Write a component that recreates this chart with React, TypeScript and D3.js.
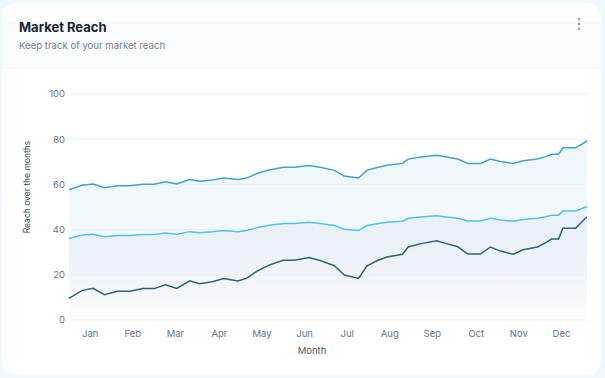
import React from "react";
import * as d3 from "d3";

const days = [0, 9, 17, 25, 34, 43, 52, 60, 68, 76, 85, 92, 101, 109, 119, 125, 133, 141, 151, 159, 169, 177, 187, 194, 204, 210, 217, 224, 235, 239, 248, 259, 266, 274, 281, 290, 297, 304, 313, 320, 330, 336, 340, 345, 348, 357, 365];
const upper = [57.6, 59.6, 60.2, 58.5, 59.4, 59.4, 60.1, 60.1, 61.2, 60.2, 62.2, 61.4, 61.9, 62.8, 62.2, 62.8, 64.9, 66.4, 67.6, 67.6, 68.4, 67.6, 66.2, 63.7, 62.8, 66.2, 67.5, 68.5, 69.3, 71.2, 72.1, 72.9, 72.1, 71.2, 69.3, 69.3, 71.2, 70.1, 69.3, 70.5, 71.2, 72.3, 73.3, 73.3, 76.2, 76.2, 79.2];
const middle = [36.1, 37.5, 37.9, 36.8, 37.4, 37.4, 37.8, 37.8, 38.5, 37.9, 39.1, 38.6, 39.0, 39.6, 39.1, 39.6, 40.9, 41.9, 42.7, 42.7, 43.2, 42.7, 41.8, 40.2, 39.6, 41.8, 42.6, 43.3, 43.7, 45.0, 45.6, 46.1, 45.6, 45.0, 43.8, 43.8, 45.0, 44.3, 43.7, 44.5, 45.0, 45.7, 46.4, 46.4, 48.2, 48.2, 50.2];
const lower = [9.6, 13.0, 14.0, 11.2, 12.7, 12.7, 13.9, 13.9, 15.6, 14.0, 17.3, 16.0, 16.9, 18.4, 17.3, 18.4, 21.8, 24.3, 26.4, 26.4, 27.6, 26.3, 24.0, 19.9, 18.4, 24.0, 26.2, 27.9, 29.1, 32.3, 33.8, 35.1, 33.8, 32.4, 29.2, 29.2, 32.3, 30.5, 29.1, 31.1, 32.3, 34.2, 35.8, 35.8, 40.6, 40.6, 45.7];
const months = ["Jan", "Feb", "Mar", "Apr", "May", "Jun", "Jul", "Aug", "Sep", "Oct", "Nov", "Dec"];
const monthDays = [15, 45, 75, 106, 136, 166, 196, 226, 256, 287, 317, 347];
const yTicks = [0, 20, 40, 60, 80, 100];

const W = 605, H = 378;
const L = 69, R = 587, T = 94, B = 320;

export default function App() {
  const x = d3.scaleLinear().domain([0, 365]).range([L, R]);
  const y = d3.scaleLinear().domain([0, 100]).range([B, T]);
  const idx = days.map((_, i) => i);
  const line = (arr: number[]) =>
    d3.line<number>().x((i) => x(days[i])).y((i) => y(arr[i]))(idx) || "";
  const areaTop = d3.area<number>().x((i) => x(days[i])).y0(() => y(0)).y1((i) => y(upper[i]))(idx) || "";
  const areaMid = d3.area<number>().x((i) => x(days[i])).y0(() => y(0)).y1((i) => y(middle[i]))(idx) || "";
  const font = "Inter, 'Noto Sans', sans-serif";
  return (
    <div style={{ position: "fixed", left: 0, top: 0, width: W, height: H }}>
      <svg width={W} height={H} style={{ display: "block" }}>
        <defs>
          <linearGradient id="gTop" x1="0" y1="0" x2="0" y2="1">
            <stop offset="0%" stopColor="#3b9fd6" stopOpacity={0.09} />
            <stop offset="100%" stopColor="#3b9fd6" stopOpacity={0.03} />
          </linearGradient>
          <linearGradient id="gMid" x1="0" y1="0" x2="0" y2="1">
            <stop offset="0%" stopColor="#c9cfe6" stopOpacity={0.15} />
            <stop offset="100%" stopColor="#ffffff" stopOpacity={0.7} />
          </linearGradient>
          <clipPath id="card">
            <rect x={2} y={3} width={599} height={372} rx={14} />
          </clipPath>
        </defs>
        <rect x={0} y={0} width={W} height={H} fill="#eff8fd" />
        <rect x={2} y={3} width={599} height={372} rx={14} fill="#ffffff" />
        <g clipPath="url(#card)">
          <rect x={2} y={21} width={599} height={47} fill="#fafbfc" />
          <line x1={2} x2={601} y1={68} y2={68} stroke="#eef1f5" />
        </g>
        <text x={19} y={32} fontFamily={font} fontWeight={700} fontSize={13} fill="#1b2433">Market Reach</text>
        <text x={19} y={49} fontFamily={font} fontSize={9.6} fill="#7a828e">Keep track of your market reach</text>
        {[19, 24, 29].map((cy) => (
          <circle key={cy} cx={579} cy={cy} r={1.3} fill="#9aa0a8" />
        ))}
        <path d={areaTop} fill="url(#gTop)" />
        <path d={areaMid} fill="url(#gMid)" />
        {yTicks.map((t) => (
          <g key={t}>
            <line x1={L + 1} x2={R} y1={y(t)} y2={y(t)} stroke="#eceff5" strokeWidth={1} />
            <text x={65} y={y(t)} dy="0.35em" textAnchor="end" fontFamily={font} fontSize={9.5} fill="#6b7280">{t}</text>
          </g>
        ))}
        <path d={line(upper)} fill="none" stroke="#3ea3d0" strokeWidth={1.5} />
        <path d={line(middle)} fill="none" stroke="#4cc4f2" strokeWidth={1.5} />
        <path d={line(lower)} fill="none" stroke="#2e6378" strokeWidth={1.5} />
        {months.map((m, i) => (
          <text key={m} x={x(monthDays[i])} y={337} textAnchor="middle" fontFamily={font} fontSize={9.5} fill="#6b7280">{m}</text>
        ))}
        <text x={312} y={354} textAnchor="middle" fontFamily={font} fontSize={9.5} fill="#4b5563">Month</text>
        <text transform={`translate(30,${(T + B) / 2 - 20}) rotate(-90)`} textAnchor="middle" fontFamily={font} fontSize={8.5} fill="#374151">Reach over the months</text>
      </svg>
    </div>
  );
}
